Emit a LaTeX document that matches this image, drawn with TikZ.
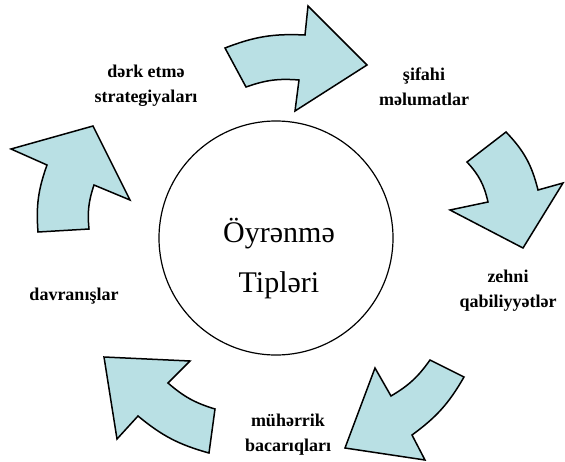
\documentclass[tikz,border=0pt]{standalone}
\usepackage{fontspec}
\setmainfont{Liberation Serif}
\usepackage{xcolor}
\usepackage{tikz}
\usetikzlibrary{positioning}
\definecolor{arrowfill}{RGB}{185,224,228}
\tikzstyle{blockarrow} = [draw=black, fill=arrowfill, line width=1.5pt, line join=miter]
\tikzstyle{hub} = [circle, draw=black, line width=1.2pt, minimum size=234pt, inner sep=0pt]
\tikzstyle{tiplabel} = [align=center, inner sep=0pt,
    font=\fontsize{18}{25}\selectfont\bfseries]

\begin{document}
\begin{tikzpicture}[x=1pt, y=-1pt]
  \useasboundingbox (0,0) rectangle (565,461);

  % Centre
  \node[hub](hub) at (276,238){};
  \node[align=center, inner sep=0pt, font=\fontsize{30}{50}\selectfont]
    (title) at (279,259){Öyrənmə\\Tipləri};

  % Arrows round the circle
  \draw[blockarrow] (225,48) to[bend left=12] (305,35) -- (308,6) -- (367,65)
    -- (295,111) -- (299,80) to[bend right=12] (246,87) -- cycle;
  \draw[blockarrow] (506,132) to[bend left=15] (538,190) -- (563,183) -- (523,248)
    -- (450,210) -- (488,202) to[bend right=15] (467,162) -- cycle;
  \draw[blockarrow] (375,368) -- (391,396) to[bend right=12] (430,360) -- (464,377)
    to[bend left=12] (412,435) -- (425,460) -- (345,448) -- cycle;
  \draw[blockarrow] (104,357) -- (190,361) -- (168,383) to[bend right=12] (215,409)
    -- (209,453) to[bend left=12] (138,416) -- (117,439) -- cycle;
  \draw[blockarrow] (11,149) -- (93,126) -- (130,200) -- (94,185) to[bend right=12] (89,229)
    -- (38,232) to[bend left=12] (47,165) -- cycle;

  % Labels
  \node[tiplabel](strat) at (146,86){dərk etmə\\strategiyaları};
  \node[tiplabel](sifahi) at (424,87){şifahi\\məlumatlar};
  \node[tiplabel](zehni) at (508,291){zehni\\qabiliyyətlər};
  \node[tiplabel](muherrik) at (288,435){mühərrik\\bacarıqları};
  \node[tiplabel](davran) at (74,296){davranışlar};
\end{tikzpicture}
\end{document}
